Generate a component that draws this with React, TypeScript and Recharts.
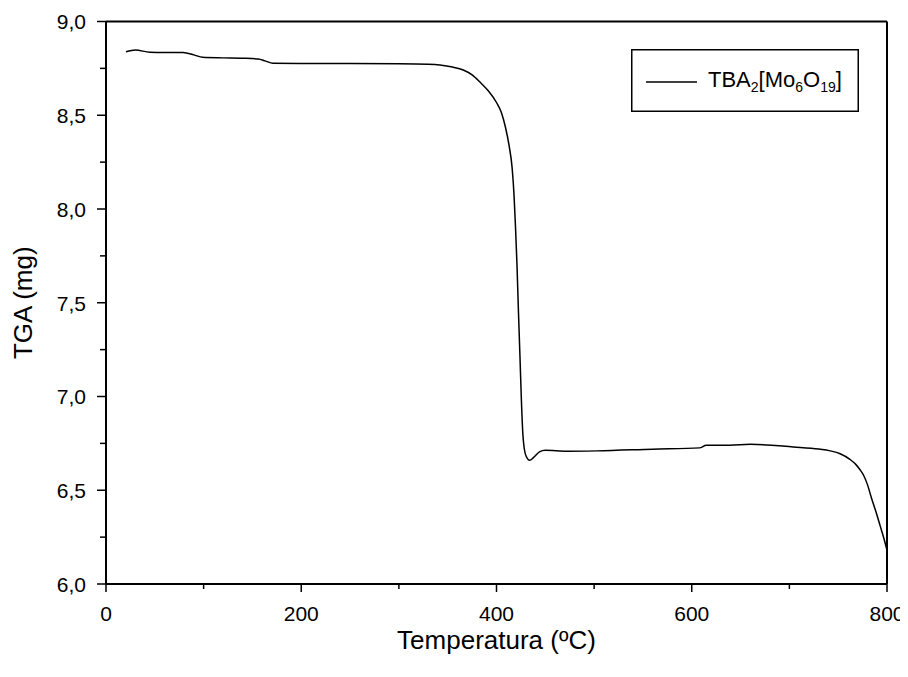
import React from 'react';
import { LineChart, Line, XAxis, YAxis, ReferenceLine, Legend, Label } from 'recharts';

const temperature = [
  20.5, 30, 45, 60, 79, 90, 99, 120, 140, 156, 163, 171, 200, 250, 300, 330, 342, 355, 366, 375,
  383, 392, 400, 405, 409, 413, 416, 418, 419.5, 421, 422.5, 424, 425.5, 427, 428.5, 430.5, 434, 438, 444, 450,
  472, 503, 560, 608, 615, 639, 660, 704, 730, 742, 752, 762, 768, 772, 776, 780, 784, 789, 793, 797, 800,
];
const massMg = [
  8.839, 8.848, 8.836, 8.835, 8.835, 8.822, 8.809, 8.806, 8.804, 8.8, 8.79, 8.777, 8.776, 8.776, 8.775, 8.772, 8.768, 8.757, 8.741, 8.715,
  8.677, 8.628, 8.568, 8.515, 8.44, 8.335, 8.22, 8.07, 7.9, 7.7, 7.45, 7.22, 6.98, 6.8, 6.72, 6.68, 6.66, 6.675, 6.705, 6.713,
  6.708, 6.71, 6.719, 6.726, 6.74, 6.74, 6.745, 6.731, 6.72, 6.71, 6.695, 6.665, 6.638, 6.612, 6.58, 6.53, 6.46, 6.38, 6.31, 6.24, 6.18,
];
const xTicks = [0, 100, 200, 300, 400, 500, 600, 700, 800];
const xMajor = [0, 200, 400, 600, 800];
const yTicks = [6, 6.25, 6.5, 6.75, 7, 7.25, 7.5, 7.75, 8, 8.25, 8.5, 8.75, 9];
const yMajor = [6, 6.5, 7, 7.5, 8, 8.5, 9];
const xTitle = 'Temperatura (ºC)';
const yTitle = 'TGA (mg)';

const data = temperature.map((t, i) => ({ t, m: massMg[i] }));

const FONT = '"Liberation Sans", Arial, sans-serif';

const XTick = (props: any) => {
  const { x, y, payload } = props;
  const major = xMajor.includes(payload.value);
  return (
    <g>
      <line x1={x} x2={x} y1={y} y2={y + (major ? 8 : 5)} stroke="#000" strokeWidth={1.5} />
      {major && (
        <text x={x} y={y + 37} textAnchor="middle" fontSize={21} fontFamily={FONT} fill="#000">
          {payload.value}
        </text>
      )}
    </g>
  );
};

const YTick = (props: any) => {
  const { x, y, payload } = props;
  const major = yMajor.includes(payload.value);
  return (
    <g>
      <line x1={x} x2={x - (major ? 9 : 6)} y1={y} y2={y} stroke="#000" strokeWidth={1.5} />
      {major && (
        <text x={x - 20} y={y} dy="0.38em" textAnchor="end" fontSize={21} fontFamily={FONT} fill="#000">
          {payload.value.toFixed(1).replace('.', ',')}
        </text>
      )}
    </g>
  );
};

const XTitle = (props: any) => {
  const vb = props.viewBox || {};
  return (
    <text x={vb.x + vb.width / 2} y={vb.y + 65} textAnchor="middle" fontSize={26} fontFamily={FONT} fill="#000">
      {xTitle}
    </text>
  );
};

const YTitle = (props: any) => {
  const vb = props.viewBox || {};
  const cx = vb.x + 24;
  const cy = vb.y + vb.height / 2;
  return (
    <text x={cx} y={cy} transform={`rotate(-90, ${cx}, ${cy})`} textAnchor="middle" fontSize={26} fontFamily={FONT} fill="#000">
      {yTitle}
    </text>
  );
};

const LegendBox = () => (
  <svg width={228} height={63} style={{ display: 'block' }}>
    <rect x={0.75} y={0.75} width={226.5} height={61.5} fill="#fff" stroke="#000" strokeWidth={1.5} />
    <line x1={15} x2={66} y1={33} y2={33} stroke="#000" strokeWidth={1.5} />
    <text x={77} y={38} fontSize={22} fontFamily={FONT} fill="#000">
      TBA<tspan fontSize={14} dy={5}>2</tspan>
      <tspan dy={-5}>[Mo</tspan>
      <tspan fontSize={14} dy={5}>6</tspan>
      <tspan dy={-5}>O</tspan>
      <tspan fontSize={14} dy={5}>19</tspan>
      <tspan dy={-5}>]</tspan>
    </text>
  </svg>
);

export default function App() {
  return (
    <LineChart width={900} height={669} data={data} margin={{ top: 13.5, right: 21, bottom: 0, left: 0 }}>
      <XAxis
        dataKey="t"
        type="number"
        domain={[0, 800]}
        ticks={xTicks}
        interval={0}
        height={93}
        tickSize={0}
        tickMargin={0}
        tickLine={false}
        axisLine={{ stroke: '#000', strokeWidth: 2 }}
        tick={(p: any) => <XTick {...p} />}
        label={<Label content={XTitle} />}
      />
      <YAxis
        type="number"
        domain={[6, 9]}
        ticks={yTicks}
        interval={0}
        width={98}
        tickSize={0}
        tickMargin={0}
        tickLine={false}
        axisLine={{ stroke: '#000', strokeWidth: 2 }}
        tick={(p: any) => <YTick {...p} />}
        label={<Label content={YTitle} />}
      />
      <ReferenceLine y={9} stroke="#000" strokeWidth={2} />
      <ReferenceLine x={800} stroke="#000" strokeWidth={2} />
      <Legend
        layout="vertical"
        align="center"
        verticalAlign="middle"
        content={() => <LegendBox />}
        wrapperStyle={{ position: 'absolute', left: 623, top: 41, width: 228, height: 63 }}
      />
      <Line
        type="monotone"
        dataKey="m"
        name="TBA2[Mo6O19]"
        stroke="#000"
        strokeWidth={1.5}
        dot={false}
        isAnimationActive={false}
      />
    </LineChart>
  );
}
